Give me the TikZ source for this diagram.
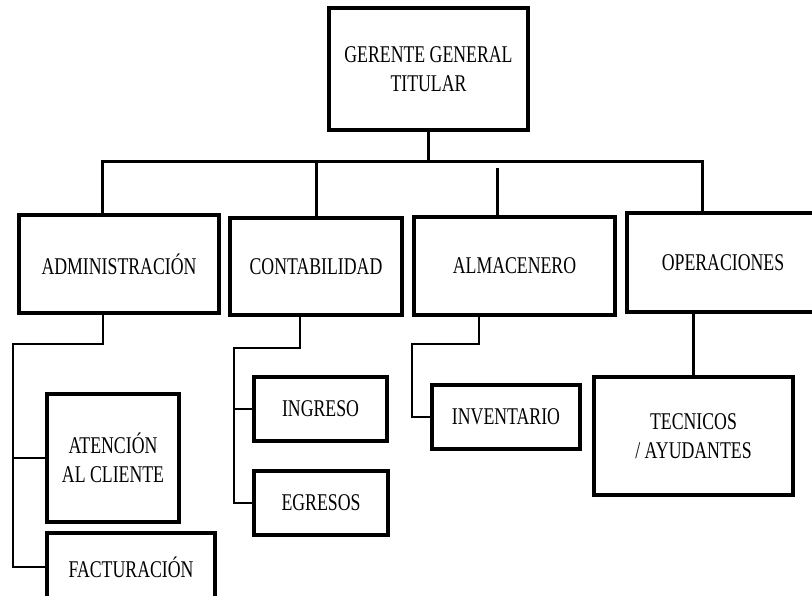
\documentclass[tikz,border=0pt]{standalone}
\usepackage{fontspec}
\newfontfamily\orgfont[FakeStretch=0.74]{Liberation Serif}
\usetikzlibrary{positioning,calc}
\tikzset{
  box/.style={rectangle, draw=black, line width=3.2pt, align=center, inner sep=0pt,
    font={\orgfont\fontsize{24}{28.5}\selectfont}},
  trunk/.style={line width=3pt},
  branch/.style={line width=1.4pt}
}

\begin{document}
\begin{tikzpicture}[x=1pt,y=-1pt]
  \clip (0,0) rectangle (812,596);

  % Top level
  \node[box,minimum width=199pt,minimum height=122pt] (gerente) at (428.5,69) {GERENTE GENERAL\\TITULAR};

  % Departments
  \node[box,minimum width=200pt,minimum height=98pt] (admin) at (119,264) {ADMINISTRACIÓN};
  \node[box,minimum width=172pt,minimum height=97pt] (contab) at (316,266.5) {CONTABILIDAD};
  \node[box,minimum width=201pt,minimum height=98pt] (almacen) at (514.5,266) {ALMACENERO};
  \node[box,minimum width=192pt,minimum height=99pt] (operac) at (723,262.5) {OPERACIONES};

  % Sub units
  \node[box,minimum width=132pt,minimum height=128pt] (atencion) at (113,458) {ATENCIÓN\\AL CLIENTE};
  \node[box,minimum width=168pt,minimum height=68pt] (factura) at (131,567) {FACTURACIÓN};
  \node[box,minimum width=133pt,minimum height=64pt] (ingreso) at (320.5,409) {INGRESO};
  \node[box,minimum width=134pt,minimum height=64pt] (egresos) at (321,503) {EGRESOS};
  \node[box,minimum width=148pt,minimum height=64pt] (inventario) at (506,417) {INVENTARIO};
  \node[box,minimum width=199pt,minimum height=118pt] (tecnicos) at (693.5,436) {TECNICOS\\/ AYUDANTES};

  % Main bus
  \coordinate (busL) at (102,162);
  \coordinate (busR) at (702,162);
  \coordinate (almTop) at (497,168);
  \draw[trunk] (admin.north -| busL) -- (busL) -- (busR) -- (busR |- operac.north);
  \draw[trunk] (gerente.south) -- (gerente.south |- busL);
  \draw[trunk] (contab.north) -- (contab.north |- busL);
  \draw[trunk] (almTop) -- (almTop |- almacen.north);
  \draw[trunk] (tecnicos.north) -- (tecnicos.north |- operac.south);

  % Branches to sub units
  \coordinate (admX) at (103,0);
  \coordinate (admElbow) at (13,344);
  \draw[branch] (admin.south -| admX) |- (admElbow) -- (admElbow |- factura.west) -- (factura.west);
  \draw[branch] (atencion.west) -- (atencion.west -| admElbow);

  \coordinate (conX) at (300,0);
  \coordinate (conElbow) at (234,348);
  \draw[branch] (contab.south -| conX) |- (conElbow) |- (egresos.west);
  \draw[branch] (ingreso.west) -- (ingreso.west -| conElbow);

  \coordinate (almX) at (479,0);
  \coordinate (almElbow) at (412,344);
  \draw[branch] (almacen.south -| almX) |- (almElbow) |- (inventario.west);
\end{tikzpicture}
\end{document}
